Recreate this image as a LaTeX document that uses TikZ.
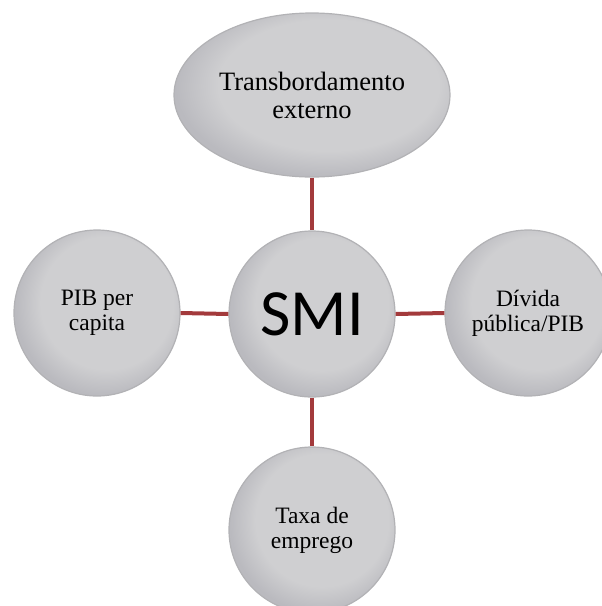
\documentclass[tikz,border=0pt]{standalone}
\usepackage{fontspec}
\setmainfont{Liberation Serif}
\newfontfamily\smifont{Carlito}
\usetikzlibrary{shapes.geometric}
\definecolor{ballin}{RGB}{207,207,209}
\definecolor{ballout}{RGB}{186,186,191}
\definecolor{ballrim}{RGB}{178,178,181}
\definecolor{connred}{RGB}{163,58,60}
\pgfdeclareradialshading{ballshade}{\pgfpoint{5bp}{5bp}}{color(0bp)=(ballin); color(20bp)=(ballin); color(27bp)=(ballout); color(50bp)=(ballout)}
\tikzset{
  ball/.style={circle, minimum size=166pt, inner sep=0pt, shading=ballshade, draw=ballrim, line width=1.2pt, align=center, font=\fontsize{23.5}{25}\selectfont},
  oval/.style={ellipse, minimum width=276pt, minimum height=164pt, inner sep=0pt, shading=ballshade, draw=ballrim, line width=1.2pt, align=center, font=\fontsize{26.5}{28}\selectfont},
  conn/.style={draw=connred, line width=4pt}
}
\begin{document}
\begin{tikzpicture}[x=1pt,y=-1pt]
\useasboundingbox (0,0) rectangle (602,606);
\begin{scope}
\clip (0,0) rectangle (602,606);
\node[oval] (top) at (312,95) {Transbordamento\\externo};
\node[ball, font=\smifont\fontsize{66}{66}\selectfont] (smi) at (312,314) {SMI};
\node[ball] (left) at (97,313) {PIB per\\capita};
\node[ball] (right) at (528,313) {Dívida\\pública/PIB};
\node[ball] (bottom) at (312,530) {Taxa de\\emprego};
\draw[conn] (top.south) -- (smi.north);
\draw[conn] (left.east) -- (smi.west);
\draw[conn] (smi.east) -- (right.west);
\draw[conn] (smi.south) -- (bottom.north);
\end{scope}
\end{tikzpicture}
\end{document}
